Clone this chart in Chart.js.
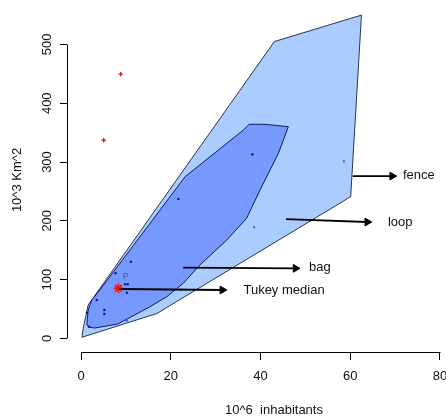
<!DOCTYPE html>
<html>
<head>
<meta charset="utf-8">
<script src="https://cdn.jsdelivr.net/npm/chart.js@4.4.1/dist/chart.umd.min.js"></script>
<style>
  html, body { margin: 0; padding: 0; background: #fff; }
  #wrap { width: 446px; height: 417px; }
</style>
</head>
<body>
<div id="wrap"><canvas id="bag" width="446" height="417"></canvas></div>
<script>
// tick labels
const xTicks = [0, 20, 40, 60, 80];
const yTicks = [0, 100, 200, 300, 400, 500];

// loop hull (light blue)
const loopHull = [
  {x: 0.2, y: 1.7}, {x: 16.9, y: 42.2}, {x: 60.1, y: 241}, {x: 62.5, y: 550},
  {x: 43.1, y: 505}, {x: 1.6, y: 56.7}, {x: 0.5, y: 17.5}, {x: 0.2, y: 1.7}
];

// bag hull (medium blue)
const bagHull = [
  {x: 37.5, y: 364.2}, {x: 41.0, y: 364.2}, {x: 46.2, y: 360.1}, {x: 44.0, y: 314.8},
  {x: 39.9, y: 252.4}, {x: 36.9, y: 204.2}, {x: 32.5, y: 167.3}, {x: 26.5, y: 124.7},
  {x: 22.8, y: 93.6}, {x: 19.1, y: 70.8}, {x: 15.4, y: 53.8}, {x: 8.2, y: 24.3},
  {x: 3.1, y: 17.5}, {x: 2.0, y: 18.7}, {x: 1.3, y: 22.6}, {x: 1.6, y: 48.2},
  {x: 2.4, y: 65.2}, {x: 4.2, y: 82.2}, {x: 23.2, y: 275}, {x: 36.2, y: 354.5},
  {x: 37.5, y: 364.2}
];

// observations
const bagPoints = [
  {x: 38.2, y: 313}, {x: 21.7, y: 237}, {x: 11.1, y: 130.4}, {x: 7.7, y: 110.6},
  {x: 9.8, y: 91.9}, {x: 10.4, y: 91.9}, {x: 10.2, y: 77.6}, {x: 3.5, y: 65.2},
  {x: 5.2, y: 48.2}, {x: 5.2, y: 41.4}, {x: 1.8, y: 19.7}, {x: 1.3, y: 43.5}
];
const loopPoints = [{x: 58.6, y: 301.2}, {x: 38.6, y: 189}, {x: 10.2, y: 30}];
const outliers = [{x: 8.85, y: 449.6}, {x: 5.06, y: 337}];
const median = [{x: 8.33, y: 85.1}];

// annotation arrows: start, head
const fenceArrow = [{x: 60.55, y: 276}, {x: 69.35, y: 276}];
const loopArrow = [{x: 45.7, y: 202.9}, {x: 63.8, y: 197.9}];
const bagArrow = [{x: 22.8, y: 120.2}, {x: 47.8, y: 119.1}];
const medianArrow = [{x: 8.53, y: 83.9}, {x: 31.5, y: 82.2}];

const notes = [
  {text: 'fence', x: 71.75, y: 278},
  {text: 'loop', x: 68.4, y: 198},
  {text: 'bag', x: 50.8, y: 121.4},
  {text: 'Tukey median', x: 36.2, y: 82.2}
];

const FONT = '"Liberation Sans", Arial, sans-serif';

function arrow(data) {
  return {
    type: 'line', data, borderColor: '#000', borderWidth: 1.8,
    pointStyle: 'triangle', pointRotation: 90, pointRadius: [0, 4.5], pointHoverRadius: [0, 4.5],
    pointBackgroundColor: '#000', pointBorderColor: '#000', pointBorderWidth: 1,
    fill: false, clip: false, order: 1
  };
}

// R style axes: lines only span the first to last tick, plus notes and titles
const rAxes = {
  id: 'rAxes',
  afterDraw(chart) {
    const {ctx, chartArea: a, scales: {x, y}} = chart;
    ctx.save();
    ctx.strokeStyle = '#000';
    ctx.lineWidth = 1;
    ctx.beginPath();
    ctx.moveTo(a.left + 0.5, Math.round(y.getPixelForValue(yTicks[0])) + 0.5);
    ctx.lineTo(a.left + 0.5, Math.round(y.getPixelForValue(yTicks[yTicks.length - 1])) + 0.5);
    ctx.moveTo(Math.round(x.getPixelForValue(xTicks[0])) + 0.5, a.bottom + 0.5);
    ctx.lineTo(Math.round(x.getPixelForValue(xTicks[xTicks.length - 1])) + 0.5, a.bottom + 0.5);
    ctx.stroke();

    ctx.fillStyle = '#111';
    ctx.font = '13px ' + FONT;
    ctx.textBaseline = 'middle';
    ctx.textAlign = 'left';
    notes.forEach(n => ctx.fillText(n.text, x.getPixelForValue(n.x), y.getPixelForValue(n.y)));

    ctx.fillStyle = '#555';
    ctx.font = '9px ' + FONT;
    ctx.textAlign = 'center';
    ctx.fillText('P', x.getPixelForValue(10.0), y.getPixelForValue(105));

    ctx.fillStyle = '#111';
    ctx.font = '13px ' + FONT;
    ctx.fillText('10^6  inhabitants', 274, 410);
    ctx.translate(17, 180);
    ctx.rotate(-Math.PI / 2);
    ctx.fillText('10^3 Km^2', 0, 0);
    ctx.restore();
  }
};

new Chart(document.getElementById('bag'), {
  type: 'scatter',
  data: {
    datasets: [
      {type: 'line', data: loopHull, backgroundColor: '#aaccff', borderColor: '#2a3550',
       borderWidth: 1, pointRadius: 0, pointHoverRadius: 0, fill: 'shape', tension: 0, clip: false, order: 10},
      {type: 'line', data: bagHull, backgroundColor: '#7799ff', borderColor: '#101a60',
       borderWidth: 1, pointRadius: 0, pointHoverRadius: 0, fill: 'shape', tension: 0, clip: false, order: 9},
      {data: bagPoints, pointStyle: 'rect', pointRadius: 1.1, backgroundColor: '#000088',
       borderColor: '#000088', borderWidth: 0.5, clip: false, order: 5},
      {data: loopPoints, pointStyle: 'rect', pointRadius: 1, backgroundColor: '#3355ff',
       borderColor: '#3355ff', borderWidth: 0.5, clip: false, order: 5},
      {data: outliers, pointStyle: 'cross', pointRadius: 2.2, borderColor: '#cc2222',
       borderWidth: 1.3, clip: false, order: 5},
      {data: median, pointStyle: 'circle', pointRadius: 5, backgroundColor: 'rgba(255,80,80,0.35)',
       borderWidth: 0, clip: false, order: 4},
      {data: median, pointStyle: 'star', pointRadius: 4.5, borderColor: '#ee1111',
       borderWidth: 1.5, clip: false, order: 3},
      arrow(fenceArrow), arrow(loopArrow), arrow(bagArrow), arrow(medianArrow)
    ]
  },
  options: {
    responsive: false,
    animation: false,
    devicePixelRatio: 1,
    layout: {padding: 0, autoPadding: false},
    events: [],
    plugins: {legend: {display: false}, tooltip: {enabled: false}},
    scales: {
      x: {
        type: 'linear', min: -3.12, max: 81.34,
        afterBuildTicks: s => { s.ticks = xTicks.map(v => ({value: v})); },
        afterFit: s => { s.height = 65; s.paddingLeft = 0; s.paddingRight = 0; },
        grid: {drawOnChartArea: false, color: '#000', tickLength: 8, tickWidth: 1},
        border: {display: false},
        ticks: {color: '#111', font: {family: FONT, size: 13}, padding: 9, maxRotation: 0, autoSkip: false}
      },
      y: {
        type: 'linear', min: -23.3, max: 575.7,
        afterBuildTicks: s => { s.ticks = yTicks.map(v => ({value: v})); },
        afterFit: s => { s.width = 67; s.paddingTop = 0; s.paddingBottom = 0; },
        grid: {drawOnChartArea: false, color: '#000', tickLength: 7, tickWidth: 1},
        border: {display: false},
        ticks: {color: '#111', font: {family: FONT, size: 13}, padding: 2, minRotation: 90,
                maxRotation: 90, crossAlign: 'center', autoSkip: false}
      }
    }
  },
  plugins: [rAxes]
});
</script>
</body>
</html>
